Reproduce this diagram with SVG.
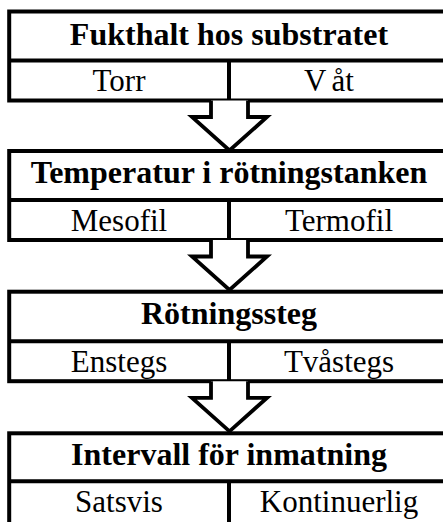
<svg xmlns="http://www.w3.org/2000/svg" width="443" height="522" viewBox="0 0 443 522">
  <style>
    .frame { fill: #ffffff; stroke: #000000; stroke-width: 4; }
    .rule { stroke: #000000; stroke-width: 4; fill: none; }
    .arrow { fill: #ffffff; stroke: #000000; stroke-width: 3.8; stroke-linejoin: miter; }
    .title { font-family: "Liberation Serif", "Times New Roman", serif; font-weight: bold; font-size: 32px; text-anchor: middle; fill: #000000; }
    .opt { font-family: "Liberation Serif", "Times New Roman", serif; font-size: 31px; text-anchor: middle; fill: #000000; }
  </style>
  <defs>
    <!-- hollow block arrow, shaft top at y=0, tip at y=50 -->
    <path id="down" class="arrow" d="M211,0 V16.5 H192 L229.5,50 L267,16.5 H248 V0"/>
  </defs>

  <!-- step 1 -->
  <g id="fukthalt">
    <rect class="frame" x="9.2" y="11.5" width="440" height="89"/>
    <line class="rule" x1="9.2" y1="60.5" x2="449" y2="60.5"/>
    <line class="rule" x1="229" y1="60.5" x2="229" y2="100.5"/>
    <text class="title" x="229" y="45">Fukthalt hos substratet</text>
    <text class="opt" x="119" y="91">Torr</text>
    <text class="opt" x="329" y="91">V<tspan dx="5">åt</tspan></text>
  </g>

  <!-- step 2 -->
  <g id="temperatur">
    <rect class="frame" x="9.2" y="151" width="440" height="89"/>
    <line class="rule" x1="9.2" y1="200" x2="449" y2="200"/>
    <line class="rule" x1="229" y1="200" x2="229" y2="240"/>
    <text class="title" x="229" y="183">Temperatur i rötningstanken</text>
    <text class="opt" x="119" y="231">Mesofil</text>
    <text class="opt" x="339" y="231">Termofil</text>
  </g>

  <!-- step 3 -->
  <g id="rotningssteg">
    <rect class="frame" x="9.2" y="291.7" width="440" height="89.5"/>
    <line class="rule" x1="9.2" y1="341.3" x2="449" y2="341.3"/>
    <line class="rule" x1="229" y1="341.3" x2="229" y2="381.2"/>
    <text class="title" x="229" y="324">Rötningssteg</text>
    <text class="opt" x="119" y="372">Enstegs</text>
    <text class="opt" x="339" y="372">Tvåstegs</text>
  </g>

  <!-- step 4 -->
  <g id="inmatning">
    <rect class="frame" x="9.2" y="433.3" width="440" height="92"/>
    <line class="rule" x1="9.2" y1="481.3" x2="449" y2="481.3"/>
    <line class="rule" x1="229" y1="481.3" x2="229" y2="525"/>
    <text class="title" x="229" y="465">Intervall för inmatning</text>
    <text class="opt" x="119" y="512">Satsvis</text>
    <text class="opt" x="339" y="512">Kontinuerlig</text>
  </g>

  <!-- connectors between steps -->
  <g id="connectors">
    <use href="#down" transform="translate(0,100.5)"/>
    <use href="#down" transform="translate(0,240)"/>
    <use href="#down" transform="translate(0,381.3)"/>
  </g>
</svg>
